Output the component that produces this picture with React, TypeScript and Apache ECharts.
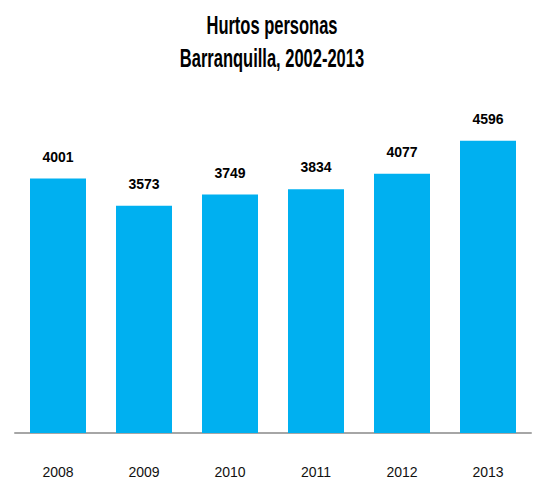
import React, { useEffect, useRef } from "react";
import * as echarts from "echarts";

const titleLines = ["Hurtos personas", "Barranquilla, 2002-2013"];
const categories = ["2008", "2009", "2010", "2011", "2012", "2013"];
const values = [4001, 3573, 3749, 3834, 4077, 4596];

const FONT = "'Liberation Sans', Arial, sans-serif";

export default function App() {
  const ref = useRef<HTMLDivElement>(null);
  useEffect(() => {
    if (!ref.current) return;
    const chart = echarts.init(ref.current, undefined, { renderer: "svg" });
    chart.setOption({
      animation: false,
      backgroundColor: "#ffffff",
      graphic: titleLines.map((t, i) => ({
        type: "text",
        x: 272,
        y: 25 + i * 33,
        scaleX: 0.66,
        style: {
          text: t,
          align: "center",
          verticalAlign: "middle",
          fontFamily: FONT,
          fontSize: 25,
          fontWeight: "bold",
          fill: "#000000",
        },
      })),
      grid: { left: 15, right: 4, top: 115, bottom: 50 },
      xAxis: {
        type: "category",
        data: categories,
        axisLine: { lineStyle: { color: "#a6a6a6", width: 2 } },
        axisTick: { show: false },
        axisLabel: {
          margin: 32,
          fontFamily: FONT,
          fontSize: 14,
          color: "#111111",
        },
      },
      yAxis: {
        type: "value",
        min: 0,
        max: 5000,
        show: false,
        splitLine: { show: false },
      },
      series: [
        {
          type: "bar",
          data: values,
          barWidth: 56,
          itemStyle: { color: "#00b0f0" },
          label: {
            show: true,
            position: "top",
            distance: 15,
            fontFamily: FONT,
            fontSize: 14,
            fontWeight: "bold",
            color: "#000000",
          },
        },
      ],
    });
    return () => chart.dispose();
  }, []);
  return <div ref={ref} style={{ width: 535, height: 483, position: "absolute", left: 0, top: 0 }} />;
}
